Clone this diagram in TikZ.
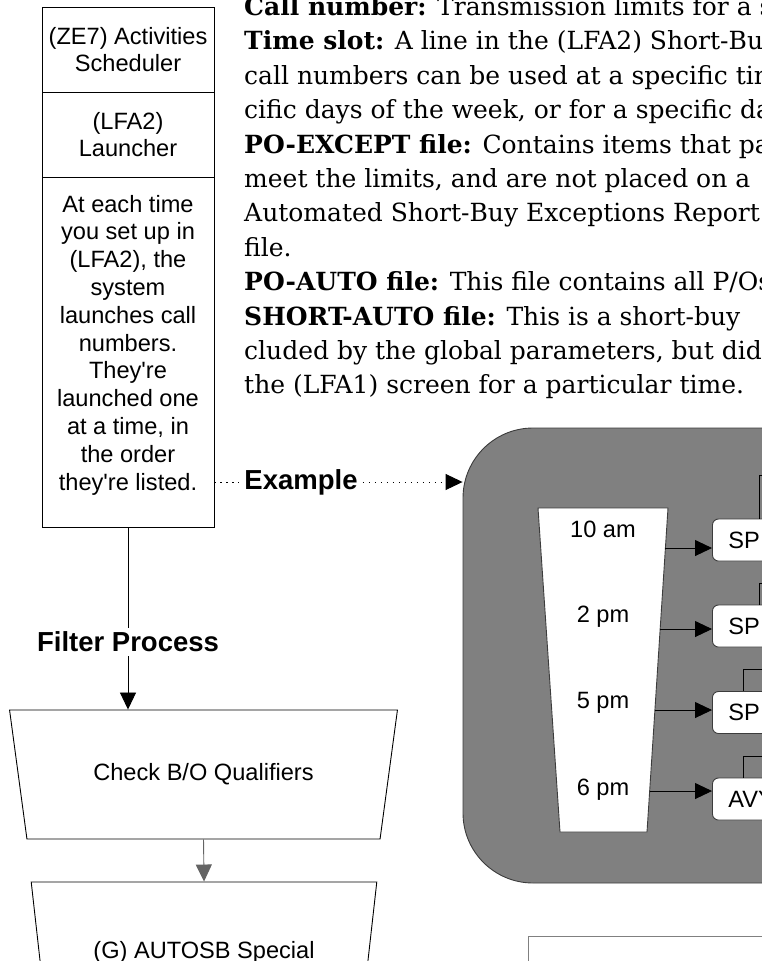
\documentclass[tikz,border=0pt]{standalone}
\usepackage{fontspec}
\setmainfont{Liberation Sans}
\newfontfamily\glossfont{DejaVu Serif}
\usetikzlibrary{arrows.meta, positioning, shapes.geometric, calc}
\definecolor{panel-gray}{RGB}{128, 128, 128}
\definecolor{edge-gray}{RGB}{60, 60, 60}
\definecolor{link-gray}{RGB}{100, 100, 100}

\begin{document}
\begin{tikzpicture}[
  x=1pt, y=-1pt,
  cell/.style={rectangle, draw, line width=0.9pt, outer sep=0pt, minimum width=172pt,
               align=center, font=\fontsize{23.6}{27.8}\selectfont},
  funnel/.style={trapezium, shape border rotate=180, trapezium stretches=true,
                 trapezium angle=63.3, draw, line width=0.9pt, inner sep=0pt,
                 font=\fontsize{23.6}{27.8}\selectfont},
  slot/.style={rectangle, rounded corners=6pt, draw=edge-gray, fill=white, line width=0.9pt,
               anchor=west, minimum width=120pt, minimum height=42pt, text width=88pt,
               inner xsep=16pt, align=left, font=\fontsize{23.6}{27.8}\selectfont},
  panel/.style={rectangle, rounded corners=70pt, fill=panel-gray, draw=edge-gray,
                line width=0.9pt, minimum width=437pt, minimum height=455pt},
  gloss/.style={anchor=base west, inner sep=0pt, font=\glossfont\fontsize{25}{30}\selectfont},
  head/.style={font=\bfseries\fontsize{27.5}{33}\selectfont, inner sep=5pt},
  lbl/.style={font=\fontsize{23.6}{27.8}\selectfont},
  arr/.style={-{Triangle[length=17pt, width=16pt]}, line width=0.9pt},
  dots/.style={line width=0.9pt, dash pattern=on 1.5pt off 4.5pt}
]
  \useasboundingbox (0,0) rectangle (762,961);
  \clip (0,0) rectangle (762,961);

  % glossary, one printed line each
  \foreach \ln [count=\i from 0] in {
    {\textbf{Call number:} Transmission limits for a specific},
    {\textbf{Time slot:} A line in the (LFA2) Short-Buy},
    {call numbers can be used at a specific time},
    {cific days of the week, or for a specific date},
    {\textbf{PO-EXCEPT file:} Contains items that pass},
    {meet the limits, and are not placed on a},
    {Automated Short-Buy Exceptions Report},
    {file.},
    {\textbf{PO-AUTO file:} This file contains all P/Os},
    {\textbf{SHORT-AUTO file:} This is a short-buy},
    {cluded by the global parameters, but did},
    {the (LFA1) screen for a particular time.}}
    \node[gloss] (gloss\i) at (244, {15.5+34.4*\i}) {\ln};

  % scheduler column
  \node[cell, minimum height=85pt] (sched) at (128,49.5) {(ZE7) Activities\\Scheduler};
  \node[cell, minimum height=85pt, below=0pt of sched] (launch) {(LFA2)\\Launcher};
  \node[cell, minimum height=350pt, below=0pt of launch,
        label={[lbl, align=center, yshift=7pt]center:At each time\\you set up in\\(LFA2), the\\system\\launches call\\numbers.\\They\textquotesingle re\\launched one\\at a time, in\\the order\\they\textquotesingle re listed.}] (desc) {};

  % filter process
  \node[funnel, minimum width=389pt, minimum height=129pt] (check) at (203.5,774.5) {Check B/O Qualifiers};
  \node[funnel, minimum width=346pt, minimum height=140pt] (special) at (204,952) {(G) AUTOSB Special};

  \draw[arr] (desc.south) -- node[pos=0.63, head, fill=white, inner sep=4pt] {Filter Process} (desc.south |- check.north);
  \draw[arr, draw=link-gray] (check.south) -- (special.north);

  % example panel
  \node[head] (exlbl) at (301,482) {Example};
  \node[panel] (panel) at (681.5,655.5) {};
  \draw[dots] (desc.east |- exlbl) -- (exlbl.west);
  \draw[dots, -{Triangle[length=17pt, width=16pt]}] (exlbl.east) -- (exlbl -| panel.west);

  \coordinate (tl) at (538,508);
  \coordinate (tr) at (668,508);
  \coordinate (br) at (647,832);
  \coordinate (bl) at (560,832);
  \draw[fill=white, draw=edge-gray, line width=0.9pt] (tl) -- (tr) -- (br) -- (bl) -- cycle;
  \node[lbl] (t1) at (603,529) {10 am};
  \node[lbl] (t2) at (603,617) {2 pm};
  \node[lbl] (t3) at (603,703) {5 pm};
  \node[lbl] (t4) at (603,790) {6 pm};

  \node[slot] (sp1) at (712,540) {SP};
  \node[slot] (sp2) at (712,626) {SP};
  \node[slot] (sp3) at (712,712.5) {SP};
  \node[slot] (sp4) at (712,799) {AVY};

  \foreach \k/\t in {1/0.1235, 2/0.3735, 3/0.6235, 4/0.8735} {
    \coordinate (f\k) at ($(tr)!\t!(br)$);
    \draw[arr] (f\k) -- (f\k -| sp\k.west);
  }

  % links running off to the right
  \coordinate (off1) at (800,475);
  \coordinate (off2) at (800,583);
  \coordinate (off3) at (800,669);
  \coordinate (off4) at (800,756);
  \draw[line width=0.9pt] ($(sp1.north west)+(47,0)$) |- (off1);
  \draw[line width=0.9pt] ($(sp2.north west)+(47,0)$) |- (off2);
  \draw[line width=0.9pt] ($(sp3.north west)+(31,0)$) |- (off3);
  \draw[line width=0.9pt] ($(sp4.north west)+(31,0)$) |- (off4);

  \node[draw=panel-gray, line width=0.9pt, anchor=north west, minimum width=300pt, minimum height=100pt] (lower) at (528,936) {};
\end{tikzpicture}
\end{document}
